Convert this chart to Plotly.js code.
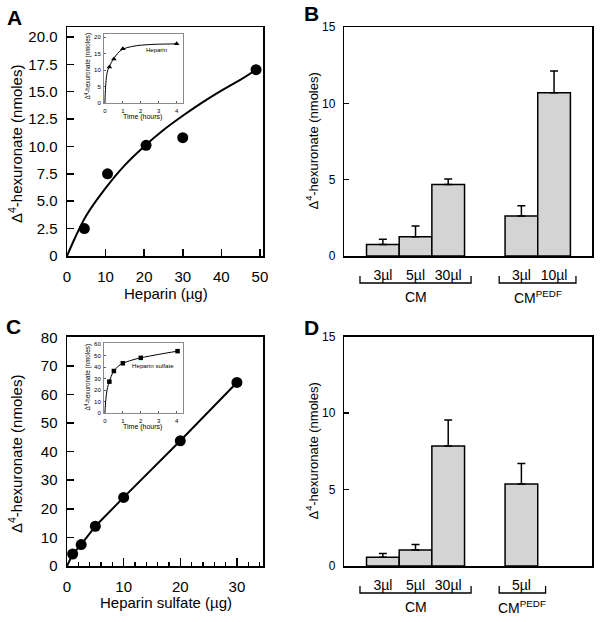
<!DOCTYPE html>
<html>
<head>
<meta charset="utf-8">
<script src="https://cdn.plot.ly/plotly-3.0.1.min.js"></script>
<style>
  html, body { margin: 0; padding: 0; background: #fff; }
  #chart { width: 600px; height: 622px; }
</style>
</head>
<body>
<div id="chart"></div>
<script>
// A: heparin dose response
const heparinDose = [4.5, 10.5, 20.5, 30, 49];
const heparinProduct = [2.5, 7.5, 10.1, 10.8, 17.0];
const heparinFitX = [0, 2, 5, 10, 15, 20, 25, 30, 35, 40, 45, 49];
const heparinFitY = [0, 1.6, 3.7, 6.2, 8.3, 10.0, 11.5, 12.8, 14.0, 15.1, 16.1, 17.0];

// A inset: heparin time course
const hepTime = [0.25, 0.5, 1, 4];
const hepTimeProduct = [11.0, 13.4, 16.5, 18.0];
const hepCurveX = [0, 0.04, 0.1, 0.17, 0.25, 0.35, 0.5, 0.7, 1, 1.5, 2, 2.5, 3, 4];
const hepCurveY = [0, 5, 8.5, 10.2, 11.0, 12.3, 13.5, 15.1, 16.4, 17.2, 17.6, 17.8, 17.9, 18.0];

// C: heparin sulfate dose response
const hsDose = [1, 2.5, 5, 10, 20, 30];
const hsProduct = [4.2, 7.5, 13.9, 24, 43.8, 64.2];
const hsLineX = [0, 1, 2.5, 5, 10, 20, 30];
const hsLineY = [0, 4.2, 7.5, 13.9, 24, 43.8, 64.2];

// C inset: heparin sulfate time course
const hsTime = [0.25, 0.5, 1, 2, 4.05];
const hsTimeProduct = [27.4, 36.6, 43.3, 48.0, 53.8];
const hsCurveX = [0, 0.03, 0.08, 0.15, 0.25, 0.35, 0.5, 0.75, 1, 1.5, 2, 3, 4.05];
const hsCurveY = [0, 8, 16, 22.5, 27.4, 32, 36.6, 40.8, 43.3, 46, 48, 51, 53.8];

// B and D: bar positions and labels
const barPosB = [1.18, 2.18, 3.18, 5.42, 6.42];
const barLabelsB = ['3\u00b5l', '5\u00b5l', '30\u00b5l', '3\u00b5l', '10\u00b5l'];
const barValuesB = [0.76, 1.26, 4.69, 2.62, 10.7];
const barTopsB = [1.09, 1.96, 5.04, 3.29, 12.12];

const barPosD = [1.18, 2.18, 3.18, 5.42];
const barLabelsD = ['3\u00b5l', '5\u00b5l', '30\u00b5l', '5\u00b5l'];
const barValuesD = [0.57, 1.05, 7.85, 5.36];
const barTopsD = [0.81, 1.40, 9.55, 6.71];

// group brackets under the bars
const groupNames = ['CM', 'CM<sup>PEDF</sup>'];
const bracketsB = [[0.48, 3.88], [4.74, 7.09]];
const bracketsD = [[0.48, 3.88], [4.74, 6.16]];

const FONT = 'Liberation Sans, Arial, Helvetica, sans-serif';
const W = 600, H = 622;
const px = v => v / W;
const py = v => 1 - v / H;

function bracketTrace(groups, xa, ya) {
    const x = [], y = [];
    groups.forEach(g => {
        x.push(g[0], g[0], g[1], g[1], null);
        y.push(1, 0, 0, 1, null);
    });
    return { x, y, xaxis: xa, yaxis: ya, type: 'scatter', mode: 'lines',
             line: { color: '#000', width: 1.3 }, hoverinfo: 'skip' };
}

function barTrace(pos, vals, tops, xa, ya) {
    return {
        x: pos, y: vals, xaxis: xa, yaxis: ya, type: 'bar', width: 1,
        marker: { color: '#d4d4d4', line: { color: '#000', width: 1.5 } },
        error_y: { type: 'data', symmetric: false,
                   array: tops.map((t, i) => t - vals[i]),
                   arrayminus: vals.map(() => 0),
                   color: '#000', thickness: 1.5, width: 4 }
    };
}

const traces = [
    { x: heparinFitX, y: heparinFitY, xaxis: 'x', yaxis: 'y', type: 'scatter', mode: 'lines',
      line: { color: '#000', width: 2, shape: 'spline' } },
    { x: heparinDose, y: heparinProduct, xaxis: 'x', yaxis: 'y', type: 'scatter', mode: 'markers',
      marker: { color: '#000', size: 11 }, cliponaxis: false },
    { x: hepCurveX, y: hepCurveY, xaxis: 'x5', yaxis: 'y5', type: 'scatter', mode: 'lines',
      line: { color: '#000', width: 1, shape: 'spline' } },
    { x: hepTime, y: hepTimeProduct, xaxis: 'x5', yaxis: 'y5', type: 'scatter', mode: 'markers',
      marker: { color: '#000', size: 5, symbol: 'triangle-up' }, cliponaxis: false },

    barTrace(barPosB, barValuesB, barTopsB, 'x2', 'y2'),
    bracketTrace(bracketsB, 'x7', 'y7'),

    { x: hsLineX, y: hsLineY, xaxis: 'x3', yaxis: 'y3', type: 'scatter', mode: 'lines',
      line: { color: '#000', width: 2 } },
    { x: hsDose, y: hsProduct, xaxis: 'x3', yaxis: 'y3', type: 'scatter', mode: 'markers',
      marker: { color: '#000', size: 11 }, cliponaxis: false },
    { x: hsCurveX, y: hsCurveY, xaxis: 'x6', yaxis: 'y6', type: 'scatter', mode: 'lines',
      line: { color: '#000', width: 1, shape: 'spline' } },
    { x: hsTime, y: hsTimeProduct, xaxis: 'x6', yaxis: 'y6', type: 'scatter', mode: 'markers',
      marker: { color: '#000', size: 4.5, symbol: 'square' }, cliponaxis: false },

    barTrace(barPosD, barValuesD, barTopsD, 'x4', 'y4'),
    bracketTrace(bracketsD, 'x8', 'y8')
];

const frame = {
    showline: true, mirror: true, linecolor: '#000', linewidth: 1.5,
    ticks: 'inside', ticklen: 7, tickwidth: 1.5, tickcolor: '#000',
    showgrid: false, zeroline: false, fixedrange: true,
    tickfont: { family: FONT, size: 15, color: '#000' }
};
const inset = {
    showline: true, mirror: true, linecolor: '#8a8a8a', linewidth: 1,
    ticks: 'inside', ticklen: 2, tickwidth: 0.8, tickcolor: '#333',
    showgrid: false, zeroline: false, fixedrange: true, ticklabelstandoff: 1,
    tickfont: { family: FONT, size: 6, color: '#000' }
};
const hidden = { visible: false, fixedrange: true };

const domAx = [px(67), px(263)];
const domBx = [px(344.3), px(592.3)];
const domTop = [py(256), py(27)];
const domBot = [py(566), py(336.7)];

const layout = {
    width: W, height: H,
    margin: { l: 0, r: 0, t: 0, b: 0 },
    paper_bgcolor: '#fff', plot_bgcolor: 'rgba(0,0,0,0)',
    showlegend: false,
    font: { family: FONT, color: '#000' },

    xaxis: { ...frame, domain: domAx, anchor: 'y', range: [0, 50.8], dtick: 10, ticklabelstandoff: 6 },
    yaxis: { ...frame, domain: domTop, anchor: 'x', range: [0, 20.9], ticklabelstandoff: 5,
             tickvals: [0, 2.5, 5, 7.5, 10, 12.5, 15, 17.5, 20],
             ticktext: ['0', '2.5', '5.0', '7.5', '10.0', '12.5', '15.0', '17.5', '20.0'] },

    xaxis2: { ...frame, domain: domBx, anchor: 'y2', range: [0, 7.59], ticks: '',
              tickvals: barPosB, ticktext: barLabelsB, ticklabelstandoff: 6,
              tickfont: { family: FONT, size: 14, color: '#000' } },
    yaxis2: { ...frame, domain: domTop, anchor: 'x2', range: [0, 15], dtick: 5, ticklen: 5,
              ticklabelstandoff: 5, tickfont: { family: FONT, size: 12, color: '#000' } },

    xaxis3: { ...frame, domain: domAx, anchor: 'y3', range: [0, 34.6], dtick: 10, ticklen: 8,
              ticklabelstandoff: 6,
              minor: { dtick: 2, ticks: 'inside', ticklen: 4, tickwidth: 1.5, tickcolor: '#000' } },
    yaxis3: { ...frame, domain: domBot, anchor: 'x3', range: [0, 80.2], dtick: 10, ticklabelstandoff: 5 },

    xaxis4: { ...frame, domain: domBx, anchor: 'y4', range: [0, 7.59], ticks: '',
              tickvals: barPosD, ticktext: barLabelsD, ticklabelstandoff: 6,
              tickfont: { family: FONT, size: 14, color: '#000' } },
    yaxis4: { ...frame, domain: domBot, anchor: 'x4', range: [0, 15], dtick: 5, ticklen: 5,
              ticklabelstandoff: 5, tickfont: { family: FONT, size: 12, color: '#000' } },

    xaxis5: { ...inset, domain: [px(104), px(183.3)], anchor: 'y5', range: [-0.05, 4.37], dtick: 1 },
    yaxis5: { ...inset, domain: [py(103.3), py(34.3)], anchor: 'x5', range: [0, 20.9], dtick: 5 },
    xaxis6: { ...inset, domain: [px(104), px(183.3)], anchor: 'y6', range: [-0.05, 4.37], dtick: 1 },
    yaxis6: { ...inset, domain: [py(413.3), py(343.3)], anchor: 'x6', range: [0, 60.6], dtick: 10 },

    xaxis7: { ...hidden, domain: domBx, anchor: 'y7', range: [0, 7.59] },
    yaxis7: { ...hidden, domain: [py(286.5), py(272.5)], anchor: 'x7', range: [-0.5, 1.5] },
    xaxis8: { ...hidden, domain: domBx, anchor: 'y8', range: [0, 7.59] },
    yaxis8: { ...hidden, domain: [py(596.5), py(582.5)], anchor: 'x8', range: [-0.5, 1.5] },

    annotations: []
};

function note(text, x, y, size, opts) {
    layout.annotations.push(Object.assign({
        text, x: px(x), y: py(y), xref: 'paper', yref: 'paper',
        showarrow: false, xanchor: 'center', yanchor: 'middle',
        font: { family: FONT, size, color: '#000' }
    }, opts || {}));
}

const yTitle = '\u0394<sup>4</sup>-hexuronate (nmoles)';

// panel letters
note('<b>A</b>', 14.5, 17.5, 21);
note('<b>B</b>', 311, 13, 21);
note('<b>C</b>', 13.5, 326, 21);
note('<b>D</b>', 311, 328, 21);

// axis titles
note(yTitle, 15, 144, 15, { textangle: -90 });
note('Heparin (\u00b5g)', 165.5, 293, 15);
note(yTitle, 312.5, 141, 13, { textangle: -90 });
note(yTitle, 15, 454, 15, { textangle: -90 });
note('Heparin sulfate (\u00b5g)', 166, 602.5, 15);
note(yTitle, 312.5, 451, 13, { textangle: -90 });

// insets
note(yTitle, 87.5, 66, 6.3, { textangle: -90 });
note('Time (hours)', 142, 117, 7);
note('Heparin', 156.5, 50, 6);
note(yTitle, 87.5, 377, 6.3, { textangle: -90 });
note('Time (hours)', 142, 427, 7);
note('Heparin sulfate', 153, 365.5, 6.2);

// group labels under the brackets
[[bracketsB, 'x2', 297], [bracketsD, 'x4', 607]].forEach(([groups, xa, yPix]) => {
    groups.forEach((g, i) => {
        layout.annotations.push({
            text: groupNames[i], x: (g[0] + g[1]) / 2, y: py(yPix),
            xref: xa, yref: 'paper', showarrow: false,
            xanchor: 'center', yanchor: 'middle',
            font: { family: FONT, size: 14, color: '#000' }
        });
    });
});

Plotly.newPlot('chart', traces, layout, { displayModeBar: false, staticPlot: true });
</script>
</body>
</html>
